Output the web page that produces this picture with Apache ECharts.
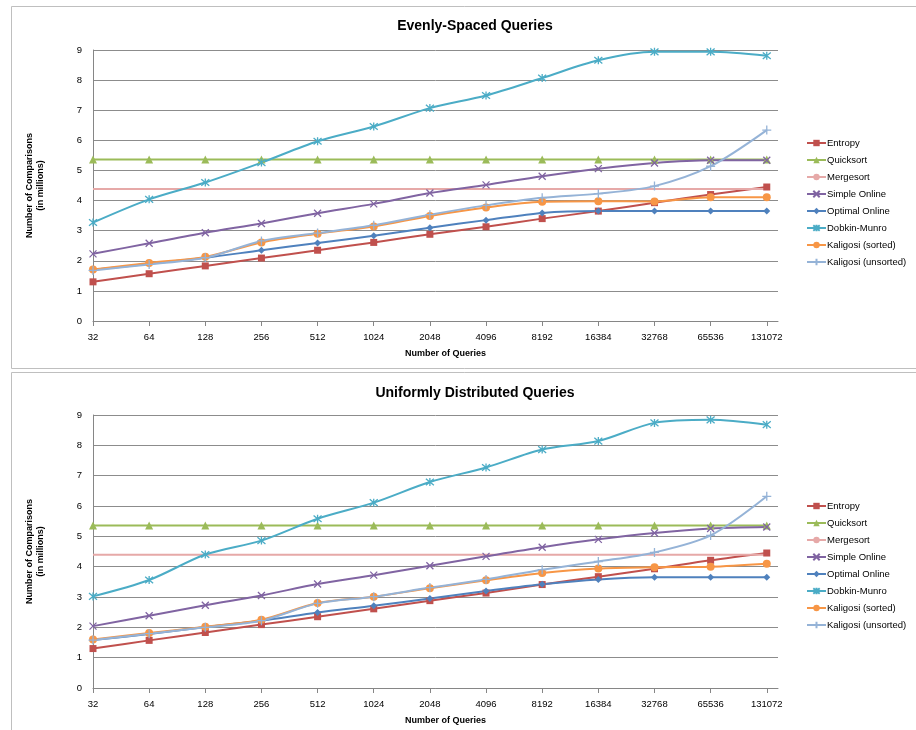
<!DOCTYPE html>
<html>
<head>
<meta charset="utf-8">
<title>Queries</title>
<script src="https://cdn.jsdelivr.net/npm/echarts@6/dist/echarts.min.js"></script>
<style>
  html, body { margin: 0; padding: 0; background: #fff; }
  #main { width: 916px; height: 730px; }
</style>
</head>
<body>
<div id="main"></div>
<script type="text/javascript">
var categories = ['32', '64', '128', '256', '512', '1024', '2048', '4096', '8192', '16384', '32768', '65536', '131072'];
var seriesNames = ['Entropy', 'Quicksort', 'Mergesort', 'Simple Online', 'Optimal Online', 'Dobkin-Munro', 'Kaligosi (sorted)', 'Kaligosi (unsorted)'];

// Evenly-Spaced Queries (top)
var entropyA     = [1.30, 1.57, 1.83, 2.09, 2.35, 2.61, 2.88, 3.13, 3.40, 3.65, 3.93, 4.20, 4.45];
var quicksortA   = [5.36, 5.36, 5.36, 5.36, 5.36, 5.36, 5.36, 5.36, 5.36, 5.36, 5.36, 5.36, 5.36];
var mergesortA   = [4.38, 4.38, 4.38, 4.38, 4.38, 4.38, 4.38, 4.38, 4.38, 4.38, 4.38, 4.38, 4.38];
var simpleA      = [2.23, 2.58, 2.93, 3.24, 3.58, 3.89, 4.25, 4.52, 4.81, 5.06, 5.25, 5.34, 5.34];
var optimalA     = [1.70, 1.90, 2.10, 2.35, 2.59, 2.83, 3.10, 3.35, 3.59, 3.65, 3.65, 3.65, 3.65];
var dobkinA      = [3.27, 4.04, 4.60, 5.26, 5.97, 6.46, 7.07, 7.49, 8.07, 8.66, 8.94, 8.94, 8.81];
var kalSortedA   = [1.71, 1.93, 2.13, 2.61, 2.90, 3.14, 3.49, 3.77, 3.96, 3.98, 3.97, 4.11, 4.11];
var kalUnsortedA = [1.68, 1.88, 2.10, 2.66, 2.92, 3.18, 3.53, 3.84, 4.09, 4.23, 4.48, 5.14, 6.34];

// Uniformly Distributed Queries (bottom)
var entropyB     = [1.30, 1.57, 1.83, 2.09, 2.35, 2.61, 2.88, 3.13, 3.41, 3.67, 3.93, 4.21, 4.45];
var quicksortB   = [5.36, 5.36, 5.36, 5.36, 5.36, 5.36, 5.36, 5.36, 5.36, 5.36, 5.36, 5.36, 5.36];
var mergesortB   = [4.39, 4.39, 4.39, 4.39, 4.39, 4.39, 4.39, 4.39, 4.39, 4.39, 4.39, 4.39, 4.39];
var simpleB      = [2.04, 2.38, 2.73, 3.05, 3.43, 3.72, 4.03, 4.34, 4.64, 4.90, 5.11, 5.26, 5.31];
var optimalB     = [1.58, 1.78, 2.01, 2.22, 2.49, 2.71, 2.95, 3.20, 3.42, 3.58, 3.65, 3.65, 3.65];
var dobkinB      = [3.02, 3.56, 4.40, 4.86, 5.58, 6.11, 6.79, 7.27, 7.86, 8.14, 8.74, 8.84, 8.68];
var kalSortedB   = [1.60, 1.81, 2.02, 2.25, 2.80, 3.01, 3.29, 3.55, 3.79, 3.94, 3.98, 4.00, 4.10];
var kalUnsortedB = [1.58, 1.79, 2.00, 2.22, 2.79, 3.01, 3.31, 3.58, 3.90, 4.17, 4.47, 5.03, 6.32];

var yTicks = [0, 1, 2, 3, 4, 5, 6, 7, 8, 9];

var colors = ['#C0504D', '#9BBB59', '#E6A9A8', '#8064A2', '#4F81BD', '#4BACC6', '#F79646', '#95B3D7'];
var symbols = [
    'rect', 'triangle', 'none',
    'path://M0,0L10,10M10,0L0,10',
    'diamond',
    'path://M0,0L10,10M10,0L0,10M5,-1L5,11',
    'circle',
    'path://M5,0L5,10M0,5L10,5'
];
var symbolSizes = [7, 8, 0, 7, 7, 8, 8, 9];
var strokeSymbols = [false, false, false, true, false, true, false, true];

var sans = "'Liberation Sans', Arial, sans-serif";

function toPoints(arr) {
    return arr.map(function (v, i) { return [i, v]; });
}

function makeSeries(dataSets, idx) {
    return dataSets.map(function (d, k) {
        return {
            name: seriesNames[k],
            type: 'line',
            xAxisIndex: idx,
            yAxisIndex: idx,
            data: toPoints(d),
            smooth: 0.3,
            symbol: symbols[k],
            symbolSize: symbolSizes[k],
            showSymbol: symbols[k] !== 'none',
            color: colors[k],
            lineStyle: { width: 2, color: colors[k] },
            itemStyle: strokeSymbols[k]
                ? { color: colors[k], borderColor: colors[k], borderWidth: 1.3 }
                : { color: colors[k], borderWidth: 0 },
            emphasis: { disabled: true }
        };
    });
}

function xAxisFor(idx) {
    return {
        type: 'value',
        gridIndex: idx,
        min: 0,
        max: 12.2,
        interval: 1,
        name: 'Number of Queries',
        nameLocation: 'middle',
        nameGap: 28,
        nameTextStyle: { fontFamily: sans, fontWeight: 'bold', fontSize: 9, color: '#000', padding: [0, 0, 0, 20] },
        axisLine: { lineStyle: { color: '#868686', width: 1 } },
        axisTick: { show: true, length: 5, inside: false, lineStyle: { color: '#868686' } },
        axisLabel: {
            fontFamily: sans, fontSize: 9.5, color: '#000', margin: 11,
            showMaxLabel: false,
            formatter: function (v) { return (v % 1 === 0 && categories[v]) ? categories[v] : ''; }
        },
        splitLine: { show: false }
    };
}

function yAxisFor(idx) {
    return {
        type: 'value',
        gridIndex: idx,
        min: yTicks[0],
        max: yTicks[yTicks.length - 1],
        interval: 1,
        name: 'Number of Comparisons\n(in millions)',
        nameLocation: 'middle',
        nameGap: 47,
        nameTextStyle: { fontFamily: sans, fontWeight: 'bold', fontSize: 9, color: '#000', lineHeight: 11 },
        axisLine: { show: true, lineStyle: { color: '#868686', width: 1 } },
        axisTick: { show: false },
        axisLabel: { fontFamily: sans, fontSize: 9.5, color: '#000', margin: 11 },
        splitLine: { show: true, lineStyle: { color: '#8C8C8C', width: 1 } }
    };
}

function legendFor(top) {
    return {
        orient: 'vertical',
        left: 801,
        top: top,
        itemWidth: 19,
        itemHeight: 8,
        itemGap: 7,
        data: seriesNames,
        textStyle: { fontFamily: sans, fontSize: 9.5, color: '#000', padding: [0, 0, 0, -4] },
        selectedMode: false
    };
}

var myChart = echarts.init(document.getElementById('main'));
var option = {
    animation: false,
    backgroundColor: '#fff',
    title: [{
        text: 'Evenly-Spaced Queries',
        left: 470, top: 14, textAlign: 'center',
        textStyle: { fontFamily: sans, fontWeight: 'bold', fontSize: 14, color: '#000' }
    }, {
        text: 'Uniformly Distributed Queries',
        left: 470, top: 381, textAlign: 'center',
        textStyle: { fontFamily: sans, fontWeight: 'bold', fontSize: 14, color: '#000' }
    }],
    graphic: [{
        type: 'rect', left: 9, top: 4, silent: true, z: -1,
        shape: { width: 920, height: 362 },
        style: { fill: 'none', stroke: '#BFBFBF', lineWidth: 1 }
    }, {
        type: 'rect', left: 9, top: 370, silent: true, z: -1,
        shape: { width: 920, height: 380 },
        style: { fill: 'none', stroke: '#BFBFBF', lineWidth: 1 }
    }],
    legend: [legendFor(133), legendFor(496)],
    grid: [
        { left: 93, right: 138, top: 50, height: 271 },
        { left: 93, right: 138, top: 415, height: 273 }
    ],
    xAxis: [xAxisFor(0), xAxisFor(1)],
    yAxis: [yAxisFor(0), yAxisFor(1)],
    series: makeSeries([entropyA, quicksortA, mergesortA, simpleA, optimalA, dobkinA, kalSortedA, kalUnsortedA], 0)
        .concat(makeSeries([entropyB, quicksortB, mergesortB, simpleB, optimalB, dobkinB, kalSortedB, kalUnsortedB], 1))
};
myChart.setOption(option);
</script>
</body>
</html>
